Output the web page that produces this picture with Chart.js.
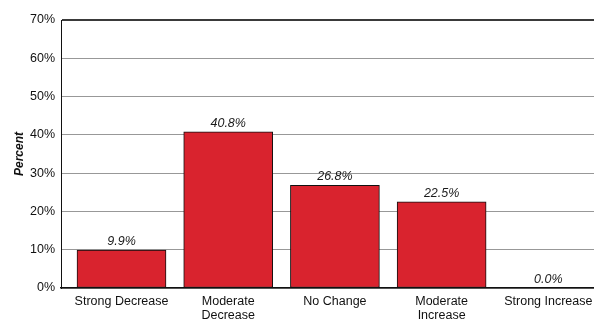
<!DOCTYPE html>
<html>
<head>
<meta charset="utf-8">
<script src="https://cdn.jsdelivr.net/npm/chart.js@4.4.1/dist/chart.umd.min.js"></script>
<style>
  html, body { margin: 0; padding: 0; background: #fff; }
  #wrap { width: 594px; height: 330px; }
</style>
</head>
<body>
<div id="wrap"><canvas id="c" width="594" height="330"></canvas></div>
<script>
const categories = [
  ['Strong Decrease'],
  ['Moderate', 'Decrease'],
  ['No Change'],
  ['Moderate', 'Increase'],
  ['Strong Increase']
];
const percentValues = [9.9, 40.8, 26.8, 22.5, 0.0];
const yTicks = [0, 10, 20, 30, 40, 50, 60, 70];

const FONT = '"Liberation Sans", Arial, sans-serif';

// value labels printed above each bar
const valueLabels = {
  id: 'valueLabels',
  afterDatasetsDraw(chart) {
    const ctx = chart.ctx;
    const meta = chart.getDatasetMeta(0);
    ctx.save();
    ctx.font = 'italic 12.5px ' + FONT;
    ctx.fillStyle = '#1a1a1a';
    ctx.textAlign = 'center';
    ctx.textBaseline = 'alphabetic';
    meta.data.forEach((bar, i) => {
      ctx.fillText(percentValues[i].toFixed(1) + '%', bar.x, bar.y - 5);
    });
    ctx.restore();
  }
};

new Chart(document.getElementById('c'), {
  type: 'bar',
  data: {
    datasets: [{
      data: percentValues.map((v, i) => ({ x: i, y: v })),
      backgroundColor: '#d9232e',
      borderColor: '#111',
      borderWidth: 1,
      borderSkipped: false,
      barThickness: 89
    }]
  },
  options: {
    responsive: false,
    animation: false,
    layout: { padding: { top: 20, right: 0, left: 0, bottom: 0 } },
    plugins: { legend: { display: false }, tooltip: { enabled: false } },
    scales: {
      x: {
        type: 'linear',
        offset: false,
        min: -0.567,
        max: 4.428,
        afterBuildTicks(scale) {
          scale.ticks = categories.map((_, i) => ({ value: i }));
        },
        afterFit(scale) {
          scale.height = 42;
          scale.paddingLeft = 0;
          scale.paddingRight = 0;
        },
        grid: { display: false, drawTicks: false },
        border: { display: true, color: '#111', width: 1.5 },
        ticks: {
          autoSkip: false,
          maxRotation: 0,
          padding: 7,
          color: '#111',
          font: { family: FONT, size: 12.5, lineHeight: 1.12 },
          callback: (v) => categories[v] || ''
        }
      },
      y: {
        min: 0,
        max: 70,
        afterBuildTicks(scale) {
          scale.ticks = yTicks.map(v => ({ value: v }));
        },
        afterFit(scale) { scale.width = 61; },
        grid: {
          drawTicks: false,
          color: (c) => c.tick && c.tick.value === 70 ? '#3a3a3a' : '#989898',
          lineWidth: (c) => c.tick && c.tick.value === 70 ? 2 : 1
        },
        border: { display: true, color: '#111', width: 1 },
        ticks: {
          padding: 6,
          color: '#111',
          font: { family: FONT, size: 12.5 },
          callback: (v) => v + '%'
        },
        title: {
          display: true,
          text: 'Percent',
          color: '#111',
          font: { family: FONT, size: 12, style: 'italic', weight: 'bold' },
          padding: { top: 12, bottom: 0 }
        }
      }
    }
  },
  plugins: [valueLabels]
});
</script>
</body>
</html>
